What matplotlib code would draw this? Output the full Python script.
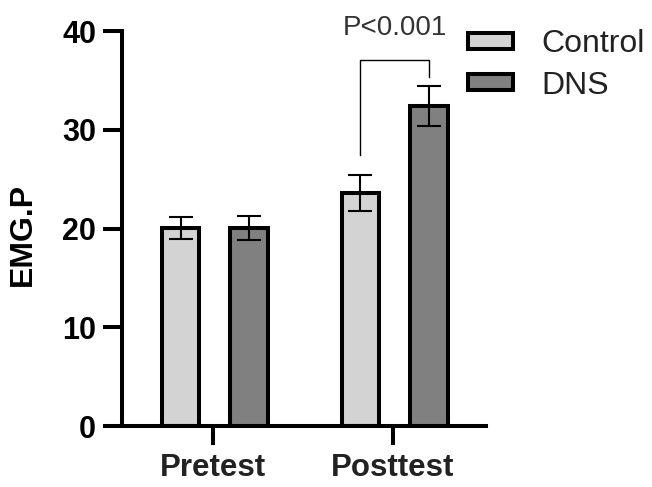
import numpy as np
import matplotlib
matplotlib.use("Agg")
import matplotlib.pyplot as plt

plt.rcParams["font.family"] = ["Liberation Sans", "DejaVu Sans"]

groups = ["Pretest", "Posttest"]
series = ["Control", "DNS"]
means = {"Control": [20.1, 23.6], "DNS": [20.1, 32.4]}
errs = {"Control": [1.1, 1.8], "DNS": [1.2, 2.0]}
colors = {"Control": "#d3d3d3", "DNS": "#808080"}
offsets = {"Control": -0.18, "DNS": 0.20}

# significance bracket (posttest Control vs DNS)
sig_text = "P<0.001"
sig_top = 37.1
sig_left_bottom = 27.5
sig_right_bottom = 35.4

fig = plt.figure(figsize=(6.52, 4.87), dpi=100)
ax = fig.add_axes([0.187, 0.125, 0.558, 0.811])

x = np.arange(len(groups))
for s in series:
    ax.bar(x + offsets[s], means[s], width=0.21, color=colors[s],
           edgecolor="black", linewidth=2.9, label=s, zorder=2)
    ax.errorbar(x + offsets[s], means[s], yerr=errs[s], fmt="none",
                ecolor="black", elinewidth=1.5, capsize=8.5, capthick=1.5,
                zorder=3)

xl = x[1] + offsets["Control"]
xr = x[1] + offsets["DNS"]
ax.plot([xl, xl, xr, xr], [sig_left_bottom, sig_top, sig_top, sig_right_bottom],
        color="black", linewidth=1.0, clip_on=False, zorder=4)
ax.text((xl + xr) / 2, 39.6, sig_text, ha="center", va="baseline",
        fontsize=20, color="#333333", clip_on=False)

ax.set_xlim(-0.506, 1.517)
ax.set_ylim(0, 40)
ax.set_yticks([0, 10, 20, 30, 40])
ax.set_xticks(x)
ax.set_xticklabels(groups, fontsize=22.5, fontweight="bold", color="#222222")
for lab in ax.get_yticklabels():
    lab.set_fontsize(22)
    lab.set_fontweight("bold")
ax.set_ylabel("EMG.P", fontsize=23, fontweight="bold")
ax.yaxis.set_label_coords(-0.23, 0.485)

for side in ["top", "right"]:
    ax.spines[side].set_visible(False)
for side in ["left", "bottom"]:
    ax.spines[side].set_linewidth(2.9)
ax.tick_params(axis="both", width=2.9, length=13.5)
ax.tick_params(axis="y", pad=5)
ax.tick_params(axis="x", pad=6)

leg = ax.legend(loc="upper left", bbox_to_anchor=(0.718, 0.94),
                bbox_transform=fig.transFigure, frameon=False, fontsize=23,
                handlelength=1.4, handleheight=0.4, handletextpad=0.9,
                labelspacing=0.36, borderpad=0, borderaxespad=0)
for t in leg.get_texts():
    t.set_color("#222222")

fig.savefig("out.png", dpi=100)
